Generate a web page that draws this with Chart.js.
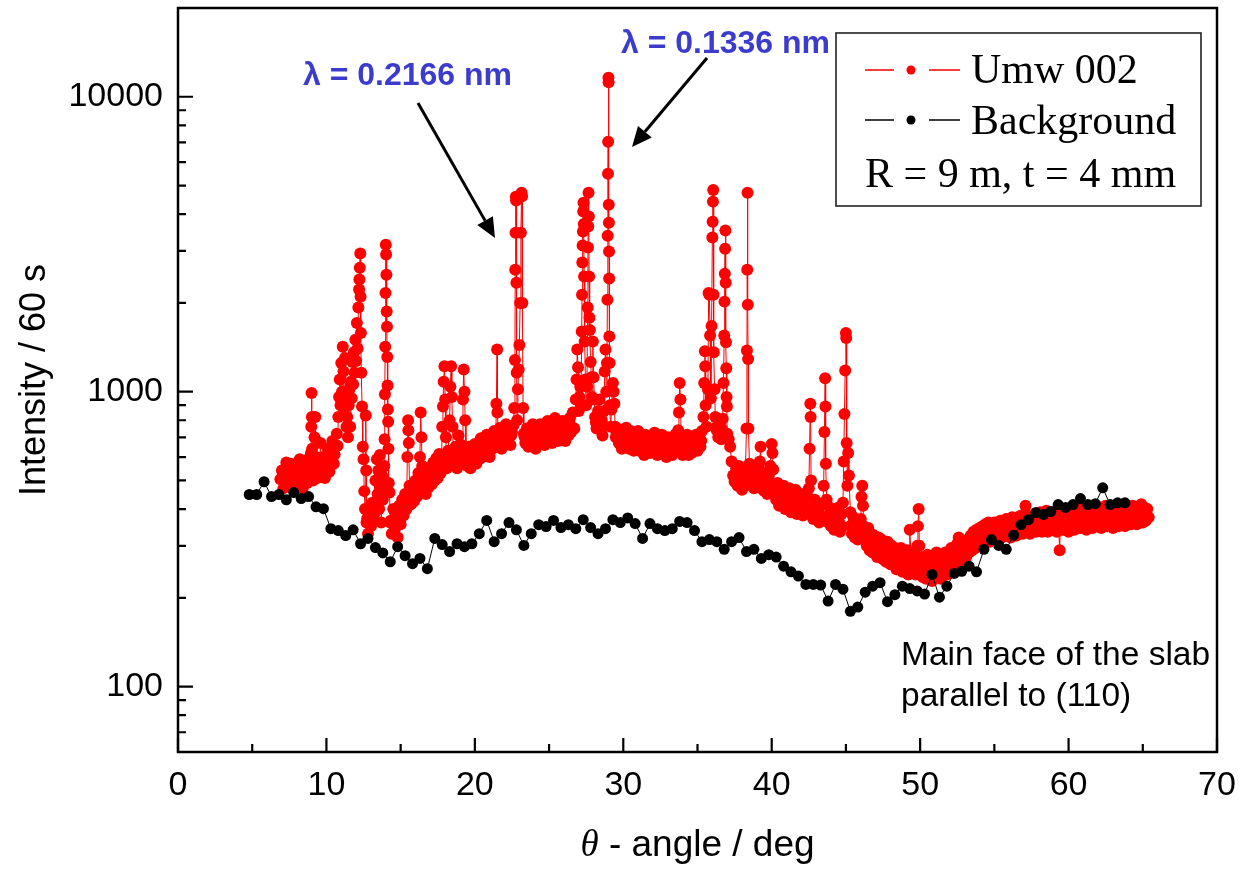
<!DOCTYPE html>
<html>
<head>
<meta charset="utf-8">
<script src="https://cdn.jsdelivr.net/npm/chart.js@4.4.1/dist/chart.umd.min.js"></script>
<style>
  html, body { margin: 0; padding: 0; background: #fff; }
  #wrap { width: 1242px; height: 870px; }
</style>
</head>
<body>
<div id="wrap"><canvas id="myChart" width="1242" height="870"></canvas></div>
<script>
// background scan, one point every half degree
const bgAngle = [
  4.8, 5.3, 5.8, 6.3, 6.8, 7.3, 7.8, 8.3, 8.8, 9.3,
  9.8, 10.3, 10.8, 11.3, 11.8, 12.3, 12.8, 13.3, 13.8, 14.3,
  14.8, 15.3, 15.8, 16.3, 16.8, 17.3, 17.8, 18.3, 18.8, 19.3,
  19.8, 20.3, 20.8, 21.3, 21.8, 22.3, 22.8, 23.3, 23.8, 24.3,
  24.8, 25.3, 25.8, 26.3, 26.8, 27.3, 27.8, 28.3, 28.8, 29.3,
  29.8, 30.3, 30.8, 31.3, 31.8, 32.3, 32.8, 33.3, 33.8, 34.3,
  34.8, 35.3, 35.8, 36.3, 36.8, 37.3, 37.8, 38.3, 38.8, 39.3,
  39.8, 40.3, 40.8, 41.3, 41.8, 42.3, 42.8, 43.3, 43.8, 44.3,
  44.8, 45.3, 45.8, 46.3, 46.8, 47.3, 47.8, 48.3, 48.8, 49.3,
  49.8, 50.3, 50.8, 51.3, 51.8, 52.3, 52.8, 53.3, 53.8, 54.3,
  54.8, 55.3, 55.8, 56.3, 56.8, 57.3, 57.8, 58.3, 58.8, 59.3,
  59.8, 60.3, 60.8, 61.3, 61.8, 62.3, 62.8, 63.3, 63.8
];
const bgCounts = [
  448, 448, 495, 441, 448, 430, 455, 434, 441, 407,
  401, 343, 338, 325, 340, 305, 318, 296, 284, 265,
  298, 278, 261, 272, 251, 318, 303, 287, 305, 298,
  305, 330, 366, 310, 330, 360, 340, 301, 330, 354,
  349, 366, 346, 354, 343, 368, 346, 330, 343, 368,
  360, 373, 357, 318, 357, 343, 338, 343, 363, 360,
  338, 310, 315, 310, 292, 310, 320, 287, 292, 272,
  280, 275, 256, 245, 237, 222, 222, 221, 195, 222,
  214, 180, 186, 209, 219, 225, 194, 205, 219, 215,
  211, 206, 240, 201, 219, 242, 246, 256, 245, 292,
  315, 301, 292, 326, 354, 368, 389, 383, 392, 414,
  405, 414, 434, 414, 417, 472, 414, 420, 420
];

// Umw 002 scan: [angle, counts]
const umw002 = [
  [6.9,505],[7.0,540],[7.1,470],[7.2,520],[7.3,575],[7.4,480],[7.5,515],[7.6,570],[7.7,470],[7.8,530],[7.9,505],
  [8.0,560],[8.1,480],[8.2,590],[8.3,515],[8.4,470],[8.5,550],[8.6,585],[8.7,490],[8.8,540],[8.9,600],
  [8.96,620],[8.98,760],[9.0,990],[9.02,820],[9.04,640],
  [9.1,500],[9.2,700],[9.25,820],[9.3,600],[9.4,510],[9.5,570],[9.6,670],[9.7,530],[9.8,600],[9.9,510],
  [10.0,580],[10.1,640],[10.2,535],[10.3,610],[10.4,680],[10.5,570],[10.6,650],[10.7,720],[10.8,820],[10.85,960],
  [10.9,1100],[10.95,900],[11.0,1250],[11.05,1000],[11.1,1420],[11.15,1170],[11.2,880],[11.25,1300],[11.3,950],
  [11.35,760],[11.4,820],[11.45,700],[11.5,900],[11.55,1020],[11.6,760],[11.65,1080],[11.7,950],[11.75,1260],
  [11.8,1060],[11.85,1360],[11.9,1160],[11.95,1500],[12.0,1270],[12.05,1710],[12.1,1400],[12.15,1930],
  [12.2,2220],[12.22,2400],[12.25,2630],[12.28,2940],[12.3,2100],[12.32,1580],[12.35,1160],[12.4,890],
  [12.45,650],[12.5,590],[12.55,460],[12.6,400],[12.65,830],[12.68,540],[12.7,360],
  [12.8,330],[12.9,395],[13.0,350],[13.1,420],[13.2,380],[13.3,500],[13.4,590],[13.45,450],[13.5,540],
  [13.55,400],[13.6,610],[13.65,470],[13.7,360],[13.75,520],[13.8,430],[13.85,490],[13.9,560],
  [13.92,690],[13.94,980],[13.96,1420],[13.98,2160],[14.0,3150],[14.02,2920],[14.04,2490],[14.06,1870],
  [14.08,1660],[14.1,1310],[14.12,1050],[14.14,870],[14.16,790],[14.18,640],[14.2,490],[14.25,455],[14.3,360],
  [14.4,330],[14.5,400],[14.6,340],[14.7,385],[14.8,320],[14.9,410],[15.0,355],[15.1,430],[15.2,380],
  [15.3,450],[15.4,400],[15.45,600],[15.5,800],[15.52,740],[15.55,670],[15.6,480],[15.7,415],[15.8,480],
  [15.9,425],[16.0,500],[16.1,440],[16.2,530],[16.3,600],[16.35,850],[16.4,700],[16.45,560],[16.5,460],
  [16.6,520],[16.7,450],[16.8,545],[16.9,475],[17.0,555],[17.1,485],[17.2,575],[17.3,500],[17.4,595],
  [17.5,510],[17.6,615],[17.7,530],[17.8,760],[17.85,890],[17.9,1080],[17.95,1220],[18.0,940],[18.05,700],
  [18.1,550],[18.2,630],[18.3,800],[18.35,1040],[18.4,1220],[18.45,960],[18.5,760],[18.6,570],[18.7,650],
  [18.8,550],[18.9,710],[19.0,590],[19.1,660],[19.2,940],[19.25,1190],[19.3,1000],[19.35,800],[19.4,620],
  [19.5,560],[19.6,650],[19.7,550],[19.8,630],[19.9,580],[20.0,665],[20.1,570],[20.2,640],[20.3,590],
  [20.4,695],[20.5,600],[20.6,670],[20.7,610],[20.8,715],[20.9,630],[21.0,600],[21.1,700],[21.2,640],
  [21.3,735],[21.4,650],[21.45,910],[21.5,1390],[21.52,850],[21.6,670],[21.7,755],[21.8,640],[21.9,720],
  [22.0,670],[22.1,775],[22.2,680],[22.3,745],[22.4,660],[22.5,730],[22.6,770],[22.65,880],[22.7,1280],
  [22.72,2590],[22.74,3460],[22.76,4580],[22.78,4450],[22.8,2340],[22.82,1160],[22.85,800],[22.9,1020],
  [22.95,1190],[23.0,1440],[23.05,2000],[23.1,3460],[23.15,4730],[23.18,4600],[23.2,2000],[23.25,880],[23.3,720],
  [23.4,670],[23.5,750],[23.6,650],[23.7,730],[23.8,680],[23.9,775],[24.0,700],[24.1,640],[24.2,740],
  [24.3,670],[24.4,775],[24.5,690],[24.6,750],[24.7,660],[24.8,730],[24.9,795],[25.0,690],[25.1,760],
  [25.2,670],[25.3,750],[25.4,815],[25.5,710],[25.6,680],[25.7,770],[25.8,700],[25.9,795],[26.0,720],
  [26.1,680],[26.2,785],[26.3,710],[26.4,815],[26.5,730],[26.6,850],[26.7,750],[26.8,940],[26.85,1100],
  [26.9,1390],[26.95,1210],[27.0,860],[27.05,960],[27.1,1040],[27.15,890],[27.2,1600],[27.22,2130],
  [27.24,2740],[27.26,3130],[27.28,3490],[27.3,4080],[27.32,4370],[27.34,3700],[27.36,2460],[27.4,1480],
  [27.45,1100],[27.5,900],[27.55,1040],[27.6,1930],[27.62,3080],[27.64,3630],[27.66,4730],[27.68,3930],
  [27.7,2460],[27.72,1780],[27.75,1620],[27.8,1260],[27.85,1120],[27.9,960],[27.95,1480],[28.0,1120],
  [28.05,940],[28.1,820],[28.2,750],[28.3,860],[28.4,940],[28.5,770],[28.6,710],[28.7,860],[28.75,1170],
  [28.8,1390],[28.85,1000],[28.9,1250],[28.93,2050],[28.95,3380],[28.97,5480],[28.98,7040],[29.0,11600],
  [29.01,11200],[29.02,4300],[29.03,3740],[29.04,2990],[29.05,2420],[29.06,1540],[29.08,1250],[29.1,900],
  [29.15,760],[29.2,870],[29.3,1070],[29.35,1000],[29.4,910],[29.45,760],[29.5,700],
  [29.6,750],[29.7,670],[29.8,730],[29.9,640],[30.0,720],[30.1,660],[30.2,755],[30.3,680],[30.4,640],
  [30.5,735],[30.6,670],[30.7,630],[30.8,710],[30.9,650],[31.0,735],[31.1,630],[31.2,700],[31.3,650],
  [31.4,610],[31.5,715],[31.6,640],[31.7,700],[31.8,620],[31.9,690],[32.0,630],[32.1,725],[32.2,650],
  [32.3,610],[32.4,700],[32.5,640],[32.6,715],[32.7,620],[32.8,680],[32.9,600],[33.0,700],[33.1,630],
  [33.2,690],[33.3,610],[33.4,670],[33.5,715],[33.6,630],[33.7,740],[33.75,850],[33.8,1070],[33.85,940],
  [33.9,700],[34.0,610],[34.1,690],[34.2,630],[34.3,715],[34.4,610],[34.5,680],[34.6,620],[34.7,700],
  [34.8,640],[34.9,715],[35.0,630],[35.1,700],[35.2,650],[35.3,735],[35.4,820],[35.45,1070],[35.5,1370],
  [35.52,1220],[35.55,900],[35.6,760],[35.7,1020],[35.75,2160],[35.8,2130],[35.85,1550],[35.9,950],
  [35.95,1670],[36.0,3330],[36.02,3770],[36.04,4410],[36.06,4830],[36.08,2130],[36.1,1360],[36.15,1020],
  [36.2,820],[36.3,740],[36.4,700],[36.5,780],[36.6,690],[36.7,810],[36.75,1070],[36.8,1550],[36.82,2020],
  [36.84,2510],[36.86,3050],[36.88,3520],[36.9,2340],[36.92,1470],[36.94,1200],[36.96,960],[36.98,890],
  [37.0,720],[37.1,690],[37.2,650],[37.3,580],[37.4,520],[37.5,495],
  [37.6,550],[37.7,480],[37.8,560],[37.9,500],[38.0,465],[38.1,540],[38.2,480],[38.3,750],[38.33,1380],
  [38.35,2590],[38.37,4730],[38.39,1970],[38.41,1290],[38.43,750],[38.5,570],[38.6,490],[38.7,550],
  [38.8,470],[38.9,530],[39.0,490],[39.1,550],[39.2,580],[39.25,650],[39.3,470],[39.4,530],[39.5,460],
  [39.6,510],[39.7,450],[39.8,520],[39.9,560],[40.0,665],[40.05,620],[40.1,545],[40.2,460],[40.3,430],
  [40.4,490],[40.5,410],[40.6,470],[40.7,420],[40.8,480],[40.9,400],[41.0,460],[41.1,410],[41.2,470],
  [41.3,390],[41.4,450],[41.5,400],[41.6,465],[41.7,385],[41.8,440],[41.9,395],[42.0,450],[42.1,380],
  [42.2,430],[42.3,390],[42.4,440],[42.5,470],[42.55,640],[42.6,910],[42.62,820],[42.65,500],[42.7,400],
  [42.8,370],[42.9,430],[43.0,380],[43.1,420],[43.2,360],[43.3,410],[43.4,370],[43.5,480],[43.55,730],
  [43.6,1110],[43.62,890],[43.65,570],[43.7,430],[43.8,360],[43.9,405],[44.0,350],[44.1,400],[44.2,340],
  [44.3,390],[44.4,350],[44.5,405],[44.6,335],[44.7,385],[44.8,420],[44.85,580],[44.9,840],[44.95,1180],
  [45.0,1580],[45.02,1520],[45.05,670],[45.1,480],[45.15,620],[45.2,520],[45.3,390],[45.4,330],[45.5,375],
  [45.6,320],[45.7,365],[45.8,315],[45.9,360],[46.0,370],[46.05,440],[46.1,480],[46.15,410],[46.2,350],
  [46.3,335],[46.4,300],[46.5,345],[46.6,290],[46.7,330],[46.8,285],[46.9,325],[47.0,300],[47.1,275],
  [47.2,320],[47.3,280],[47.4,315],[47.5,270],[47.6,305],[47.7,265],[47.8,310],[47.9,275],[48.0,260],
  [48.1,300],[48.2,265],[48.3,295],[48.4,250],[48.5,290],[48.6,255],[48.7,295],[48.8,245],[48.9,285],
  [49.0,255],[49.1,290],[49.2,240],[49.3,340],[49.4,265],[49.5,245],[49.6,285],[49.7,240],[49.8,300],
  [49.85,350],[49.9,400],[49.95,300],[50.0,245],[50.1,275],[50.2,235],[50.3,270],[50.4,232],[50.5,280],
  [50.6,240],[50.7,270],[50.8,228],[50.9,275],[51.0,236],[51.1,285],[51.2,240],[51.3,270],[51.4,232],
  [51.5,280],[51.6,245],[51.7,285],[51.8,240],[51.9,275],[52.0,245],[52.1,295],[52.2,250],[52.3,285],
  [52.4,260],[52.5,305],[52.6,320],[52.7,265],[52.8,300],[52.9,270],[53.0,310],[53.1,275],[53.2,315],
  [53.3,285],[53.4,325],[53.5,290],[53.6,335],[53.7,295],[53.8,340],[53.9,305],[54.0,345],[54.1,310],
  [54.2,350],[54.3,315],[54.4,355],[54.5,320],[54.6,360],[54.7,310],[54.8,350],[54.9,320],[55.0,360],
  [55.1,315],[55.2,355],[55.3,325],[55.4,365],[55.5,320],[55.6,360],[55.7,330],[55.8,370],[55.9,325],
  [56.0,365],[56.1,320],[56.2,375],[56.3,330],[56.4,365],[56.5,325],[56.6,375],[56.7,335],[56.8,380],
  [56.9,330],[57.0,370],[57.1,410],[57.2,335],[57.3,380],[57.4,330],[57.5,375],[57.6,340],[57.7,385],
  [57.8,335],[57.9,380],[58.0,340],[58.1,390],[58.2,335],[58.3,375],[58.4,345],[58.5,395],[58.6,335],
  [58.7,380],[58.8,345],[58.9,390],[59.0,340],[59.1,385],[59.2,335],[59.3,380],[59.4,290],[59.5,375],
  [59.6,340],[59.7,395],[59.8,345],[59.9,385],[60.0,335],[60.1,390],[60.2,350],[60.3,400],[60.4,340],
  [60.5,385],[60.6,350],[60.7,405],[60.8,345],[60.9,390],[61.0,355],[61.1,400],[61.2,340],[61.3,390],
  [61.4,355],[61.5,405],[61.6,345],[61.7,395],[61.8,350],[61.9,400],[62.0,355],[62.1,405],[62.2,345],
  [62.3,395],[62.4,360],[62.5,410],[62.6,350],[62.7,400],[62.8,355],[62.9,405],[63.0,345],[63.1,400],
  [63.2,360],[63.3,410],[63.4,350],[63.5,400],[63.6,360],[63.7,415],[63.8,350],[63.9,405],[64.0,360],
  [64.1,400],[64.2,355],[64.3,410],[64.4,365],[64.5,405],[64.6,355],[64.7,400],[64.8,365],[64.9,415],
  [65.0,360],[65.1,405],[65.2,365],[65.3,400],[65.4,375]
];

// in-between readings of the same scan (middle of the band), merged by angle
const umw002Fill = [
  [7.05,515],[7.25,498],[7.45,527],[7.65,508],[7.85,521],[8.05,526],[8.25,538],[8.45,512],[8.65,547],[8.85,528],
  [9.15,562],[9.35,543],[9.55,578],[9.75,556],[9.95,588],[10.15,566],[10.35,604],[10.55,612],[10.75,655],
  [12.75,372],[12.95,381],[13.15,371],[13.35,424],[13.58,482],[13.78,468],
  [14.35,366],[14.55,358],[14.75,372],[14.95,362],[15.15,388],[15.35,403],
  [15.65,446],[15.85,437],[16.05,462],[16.25,468],[16.55,478],[16.75,488],[16.95,503],[17.15,517],[17.35,528],
  [17.55,548],[17.75,558],[18.15,582],[18.55,612],[18.75,588],[18.95,623],[19.15,598],[19.45,602],[19.65,587],
  [19.85,603],[20.05,607],[20.25,612],[20.45,633],[20.65,638],[20.85,657],[21.05,648],[21.25,672],[21.65,692],
  [21.85,678],[22.05,707],[22.25,698],[22.45,712],
  [23.35,702],[23.55,706],[23.75,688],[23.95,717],[24.15,698],[24.35,722],[24.55,703],[24.75,727],[24.95,708],
  [25.15,722],[25.35,698],[25.55,732],[25.75,713],[25.95,737],[26.15,718],[26.35,742],[26.55,757],
  [28.15,788],[28.35,782],[28.55,802],[28.65,768],
  [29.55,722],[29.75,698],[29.95,692],[30.15,703],[30.35,697],[30.55,688],[30.75,677],[30.95,683],[31.15,677],
  [31.35,678],[31.55,667],[31.75,672],[31.95,658],[32.15,672],[32.35,653],[32.55,667],[32.75,648],[32.95,662],
  [33.15,653],[33.35,652],[33.55,667],[34.05,653],[34.25,667],[34.45,648],[34.65,662],[34.85,668],[35.05,667],
  [35.25,682],[36.25,758],[36.45,732],[36.65,747],
  [37.55,522],[37.75,513],[37.95,512],[38.15,503],[38.55,512],[38.75,498],[38.95,507],[39.15,493],[39.45,497],
  [39.65,483],[39.85,492],[40.25,452],[40.45,438],[40.65,442],[40.85,433],[41.05,432],[41.25,423],[41.45,427],
  [41.65,413],[41.85,417],[42.05,408],[42.25,407],[42.45,398],[42.75,397],[42.95,388],[43.15,387],[43.35,378],
  [43.75,377],[43.95,368],[44.15,367],[44.35,358],[44.55,360],[44.75,348],
  [45.35,352],[45.55,343],[45.75,342],[45.95,336],[46.25,322],[46.45,313],[46.65,312],[46.85,303],[47.05,302],
  [47.25,293],[47.45,292],[47.65,283],[47.85,287],[48.05,278],[48.25,280],[48.45,273],[48.65,274],[48.85,266],
  [49.05,270],[49.25,263],[49.45,264],[49.65,258],[50.05,260],[50.25,253],[50.45,254],[50.65,248],[50.85,254],
  [51.05,250],[51.25,257],[51.45,253],[51.65,260],[51.85,258],[52.05,267],[52.25,268],[52.45,280],[52.65,283],
  [52.85,292],[53.05,293],[53.25,302],[53.45,303],[53.65,314],[53.85,316],[54.05,327],[54.25,328],[54.45,335],
  [54.65,333],[54.85,340],[55.05,338],[55.25,344],[55.45,343],[55.65,347],[55.85,346],[56.05,352],[56.25,350],
  [56.45,354],[56.65,353],[56.85,357],[57.05,356],[57.25,360],[57.45,358],[57.65,362],[57.85,360],[58.05,364],
  [58.25,361],[58.45,367],[58.65,363],[58.85,368],[59.05,364],[59.25,370],[59.45,366],[59.65,372],[59.85,368],
  [60.05,372],[60.25,370],[60.45,374],[60.65,372],[60.85,376],[61.05,373],[61.25,377],[61.45,374],[61.65,378],
  [61.85,375],[62.05,380],[62.25,376],[62.45,381],[62.65,377],[62.85,382],[63.05,378],[63.25,383],[63.45,379],
  [63.65,384],[63.85,380],[64.05,385],[64.25,381],[64.45,385],[64.65,382],[64.85,387],[65.05,383],[65.25,386]
];

// axis ticks
const xMajor = [0, 10, 20, 30, 40, 50, 60, 70];
const xMinor = [5, 15, 25, 35, 45, 55, 65];
const yMajor = [100, 1000, 10000];
const yMinor = [60, 70, 80, 90, 200, 300, 400, 500, 600, 700, 800, 900,
  2000, 3000, 4000, 5000, 6000, 7000, 8000, 9000];

const labels = {
  xTitleSymbol: "\u03b8",
  xTitle: " - angle / deg",
  yTitle: "Intensity / 60 s",
  lambda1: "\u03bb = 0.2166 nm",
  lambda2: "\u03bb = 0.1336 nm",
  note1: "Main face of the slab",
  note2: "parallel to (110)",
  param: "R = 9 m, t = 4 mm",
};

const SANS = "'Liberation Sans', Arial, Helvetica, sans-serif";
const SERIF = "'Liberation Serif', 'Times New Roman', serif";
const BLUE = "rgb(59,59,206)";

function arrow(ctx, x1, y1, x2, y2) {
  const ang = Math.atan2(y2 - y1, x2 - x1);
  const len = 20, half = 9;
  const bx = x2 - len * Math.cos(ang), by = y2 - len * Math.sin(ang);
  ctx.beginPath();
  ctx.moveTo(x1, y1);
  ctx.lineTo(bx, by);
  ctx.stroke();
  ctx.beginPath();
  ctx.moveTo(x2, y2);
  ctx.lineTo(bx + half * Math.sin(ang), by - half * Math.cos(ang));
  ctx.lineTo(bx - half * Math.sin(ang), by + half * Math.cos(ang));
  ctx.closePath();
  ctx.fill();
}

const decorations = {
  id: "decorations",
  afterDraw(chart) {
    const { ctx, chartArea: a, scales: { x, y } } = chart;
    ctx.save();

    // frame and inward ticks
    ctx.strokeStyle = "#000";
    ctx.lineWidth = 2.5;
    ctx.strokeRect(a.left, a.top, a.right - a.left, a.bottom - a.top);
    ctx.lineWidth = 2.2;
    ctx.beginPath();
    xMajor.forEach((v) => {
      const px = x.getPixelForValue(v);
      ctx.moveTo(px, a.bottom); ctx.lineTo(px, a.bottom - 14);
    });
    xMinor.forEach((v) => {
      const px = x.getPixelForValue(v);
      ctx.moveTo(px, a.bottom); ctx.lineTo(px, a.bottom - 8);
    });
    yMajor.forEach((v) => {
      const py = y.getPixelForValue(v);
      ctx.moveTo(a.left, py); ctx.lineTo(a.left + 15, py);
    });
    yMinor.forEach((v) => {
      const py = y.getPixelForValue(v);
      ctx.moveTo(a.left, py); ctx.lineTo(a.left + 8, py);
    });
    ctx.stroke();

    // x axis title with italic theta
    ctx.fillStyle = "#000";
    ctx.textBaseline = "alphabetic";
    ctx.font = "italic 37px " + SERIF;
    const w1 = ctx.measureText(labels.xTitleSymbol).width;
    ctx.font = "37px " + SANS;
    const w2 = ctx.measureText(labels.xTitle).width;
    const x0 = (a.left + a.right) / 2 - (w1 + w2) / 2;
    ctx.font = "italic 37px " + SERIF;
    ctx.fillText(labels.xTitleSymbol, x0, 856);
    ctx.font = "37px " + SANS;
    ctx.fillText(labels.xTitle, x0 + w1, 856);

    // note in lower right
    ctx.font = "33.5px " + SANS;
    ctx.fillText(labels.note1, 901, 665);
    ctx.fillText(labels.note2, 901, 706);

    // wavelength annotations
    ctx.fillStyle = BLUE;
    ctx.font = "bold 32px " + SANS;
    ctx.fillText(labels.lambda1, 303, 85);
    ctx.fillText(labels.lambda2, 621, 53);
    ctx.fillStyle = "#000";
    ctx.strokeStyle = "#000";
    ctx.lineWidth = 3;
    arrow(ctx, 418, 103, 495, 238);
    arrow(ctx, 707, 58, 632, 147);

    // legend box
    ctx.fillStyle = "#fff";
    ctx.fillRect(836, 33, 365, 173);
    ctx.strokeStyle = "#222";
    ctx.lineWidth = 1.6;
    ctx.strokeRect(836, 33, 365, 173);
    const rows = [
      { ds: chart.data.datasets[1], y: 70, base: 83 },
      { ds: chart.data.datasets[0], y: 120, base: 134 },
    ];
    rows.forEach((r) => {
      ctx.strokeStyle = r.ds.borderColor;
      ctx.lineWidth = 1.4;
      ctx.beginPath();
      ctx.moveTo(865, r.y); ctx.lineTo(894, r.y);
      ctx.moveTo(929, r.y); ctx.lineTo(960, r.y);
      ctx.stroke();
      ctx.fillStyle = r.ds.pointBackgroundColor;
      ctx.beginPath();
      ctx.arc(911, r.y, 4.5, 0, Math.PI * 2);
      ctx.fill();
      ctx.fillStyle = "#000";
      ctx.font = "42px " + SERIF;
      ctx.fillText(r.ds.label, 971, r.base);
    });
    ctx.font = "42px " + SERIF;
    ctx.fillText(labels.param, 865, 187);
    ctx.restore();
  },
};

document.addEventListener("DOMContentLoaded", () => {
  const ctx = document.getElementById("myChart");
  const bgData = bgAngle.map((a, i) => ({ x: a, y: bgCounts[i] }));
  const umwData = umw002.concat(umw002Fill)
    .sort((p, q) => p[0] - q[0])
    .map((p) => ({ x: p[0], y: p[1] }));

  new Chart(ctx, {
    type: "scatter",
    data: {
      datasets: [
        {
          label: "Background",
          data: bgData,
          showLine: true,
          borderColor: "#000000",
          borderWidth: 1,
          pointRadius: 5.5,
          pointBorderWidth: 0,
          pointBackgroundColor: "#000000",
        },
        {
          label: "Umw 002",
          data: umwData,
          showLine: true,
          borderColor: "#ff0000",
          borderWidth: 1,
          pointRadius: 6,
          pointBorderWidth: 0,
          pointBackgroundColor: "#ff0000",
        },
      ],
    },
    options: {
      responsive: false,
      animation: false,
      devicePixelRatio: 1,
      layout: { padding: { left: 0, top: 8, right: 25, bottom: 0 } },
      plugins: { legend: { display: false }, tooltip: { enabled: false } },
      scales: {
        x: {
          type: "linear",
          min: 0,
          max: 70,
          grid: { display: false, drawTicks: false },
          border: { display: false },
          afterBuildTicks: (s) => { s.ticks = xMajor.map((v) => ({ value: v })); },
          ticks: {
            autoSkip: false,
            maxRotation: 0,
            padding: 13,
            color: "#000",
            font: { family: SANS, size: 34 },
            callback: (v) => String(v),
          },
          afterFit: (s) => {
            s.height = 118;
            s.paddingLeft = 0;
            s.paddingRight = 0;
          },
        },
        y: {
          type: "logarithmic",
          min: 60,
          max: 20000,
          grid: { display: false, drawTicks: false },
          border: { display: false },
          afterBuildTicks: (s) => {
            s.ticks = yMinor.concat(yMajor).sort((p, q) => p - q).map((v) => ({ value: v }));
          },
          ticks: {
            autoSkip: false,
            padding: 15,
            color: "#000",
            font: { family: SANS, size: 34 },
            callback: (v) => (yMajor.includes(v) ? String(v) : ""),
          },
          title: {
            display: true,
            text: labels.yTitle,
            color: "#000",
            font: { family: SANS, size: 36 },
            padding: { top: 13, bottom: 0 },
          },
          afterFit: (s) => {
            s.width = 178;
            s.paddingTop = 0;
            s.paddingBottom = 0;
          },
        },
      },
    },
    plugins: [decorations],
  });
});
</script>
</body>
</html>
